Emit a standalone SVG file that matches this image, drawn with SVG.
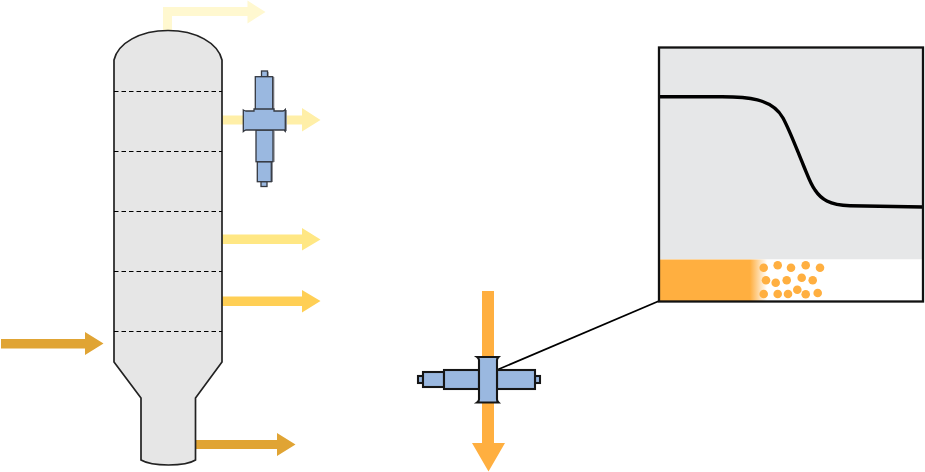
<svg xmlns="http://www.w3.org/2000/svg" width="925" height="472" viewBox="0 0 925 472">
<defs>
<linearGradient id="fade" x1="0" x2="1" y1="0" y2="0"><stop offset="0" stop-color="#FFAF40"/><stop offset="1" stop-color="#FFAF40" stop-opacity="0"/></linearGradient>
</defs>
<style>
.m1{fill:#9AB8E0;stroke:#343840;stroke-width:1.300;stroke-linejoin:miter}
.m1s{fill:none;stroke:#8a8d94;stroke-width:1.300}
.m2{fill:#9AB8E0;stroke:#161616;stroke-width:2.100}
.tray{stroke:#000;stroke-width:1.100;stroke-dasharray:4.500 3;fill:none}
.dot{fill:#FFAF40}
</style>
<rect width="925" height="472" fill="#fff"/>
<g id="connectors">
<path id="overhead" d="M163 30V7H247.500V0.500L265.500 12L247.500 23.500V16H172V30Z" fill="#FFF8D0"/>
<path id="side1" d="M222 115.500H302V108L320.500 120L302 131.500V124.500H222Z" fill="#FFEFA8"/>
<path id="side2" d="M222 234.500H302V228L320.500 239.500L302 250.500V244H222Z" fill="#FFE784"/>
<path id="side3" d="M222 296.500H302V290L320.500 301L302 312.500V306H222Z" fill="#FFCF55"/>
<path id="feed" d="M1 339H85V332L103.500 343.500L85 355V348.500H1Z" fill="#E0A434"/>
<path id="bottoms" d="M196 440H277V433L295.500 444.500L277 456V449H196Z" fill="#E0A434"/>
<path id="permeate" d="M482 291H494V443H505L488.500 471.500L472 443H482Z" fill="#FFAF40"/>
<path id="leader" d="M498 369.500L659 301" fill="none" stroke="#000" stroke-width="1.800"/>
</g>
<g id="column">
<path d="M114 60C118 43 140 30.500 168 30.500C196 30.500 218 43 222 60V362L195.500 398V460C190 463.500 180 465 168.500 465C157 465 147 463.500 141 460V398L114 362Z" fill="#E6E6E6" stroke="#222" stroke-width="1.700"/>
<path class="tray" d="M114 91.500H222M114 151.500H222M114 211.500H222M114 271.500H222M114 331.500H222"/>
</g>
<g id="exchanger-top">
<path class="m1s" d="M268 72V77M273.700 77V110M286.300 110V131M274 131V162M272.300 162V182"/>
<rect class="m1" x="261.500" y="71" width="6" height="6"/>
<rect class="m1" x="255.300" y="76.700" width="17.400" height="33.300"/>
<rect class="m1" x="261" y="181.500" width="6" height="5"/>
<rect class="m1" x="257.300" y="161.700" width="14" height="20"/>
<rect class="m1" x="256" y="130" width="17" height="31.700"/>
<path class="m1" d="M243.300 110V131.500Q245 130 246 130H285Q284 130.500 285.300 131.500V109.500Q284 111 283 111H274V109H254V111H246Q245 111 243.300 110Z"/>
</g>
<g id="exchanger-bottom">
<rect class="m2" x="418" y="376" width="5" height="7"/>
<rect class="m2" x="423" y="372" width="21" height="15"/>
<rect class="m2" x="444" y="370" width="35" height="19"/>
<rect class="m2" x="535" y="376" width="5" height="7"/>
<rect class="m2" x="497" y="370" width="38" height="19"/>
<path class="m2" d="M477 357H498.500Q497 358.500 497 360V399.500Q497 401 498.500 402.500H477Q479 401 479 399.500V360Q479 358.500 477 357Z"/>
</g>
<g id="inset">
<rect x="659" y="48" width="264" height="211.500" fill="#E6E7E8"/>
<rect x="659" y="259.500" width="264" height="42" fill="#fff"/>
<rect x="659" y="259.500" width="91" height="42" fill="#FFAF40"/>
<rect x="750" y="259.500" width="17" height="42" fill="url(#fade)"/>
<g id="droplets">
<circle class="dot" cx="763.700" cy="267.700" r="4.300"/>
<circle class="dot" cx="777.700" cy="265.300" r="4.300"/>
<circle class="dot" cx="791" cy="267.700" r="4.300"/>
<circle class="dot" cx="805.700" cy="265.300" r="4.300"/>
<circle class="dot" cx="820" cy="267.700" r="4.300"/>
<circle class="dot" cx="766" cy="280.300" r="4.300"/>
<circle class="dot" cx="775.700" cy="282.700" r="4.300"/>
<circle class="dot" cx="786.700" cy="280.300" r="4.300"/>
<circle class="dot" cx="801.700" cy="277.700" r="4.300"/>
<circle class="dot" cx="812.700" cy="280.300" r="4.300"/>
<circle class="dot" cx="763.700" cy="294" r="4.300"/>
<circle class="dot" cx="777.700" cy="294" r="4.300"/>
<circle class="dot" cx="788" cy="294" r="4.300"/>
<circle class="dot" cx="797.300" cy="289.700" r="4.300"/>
<circle class="dot" cx="805.700" cy="294.300" r="4.300"/>
<circle class="dot" cx="817.700" cy="293" r="4.300"/>
</g>
<path d="M659 96.700H722C746 96.700 772 98 783 118C790 131 797 150 803.300 165C809 179 811 185 815 190C821 199 829 205 850 205.700L923 207" fill="none" stroke="#000" stroke-width="3.400"/>
<rect x="659" y="47.500" width="264" height="254" fill="none" stroke="#111" stroke-width="2.300"/>
</g>
</svg>
